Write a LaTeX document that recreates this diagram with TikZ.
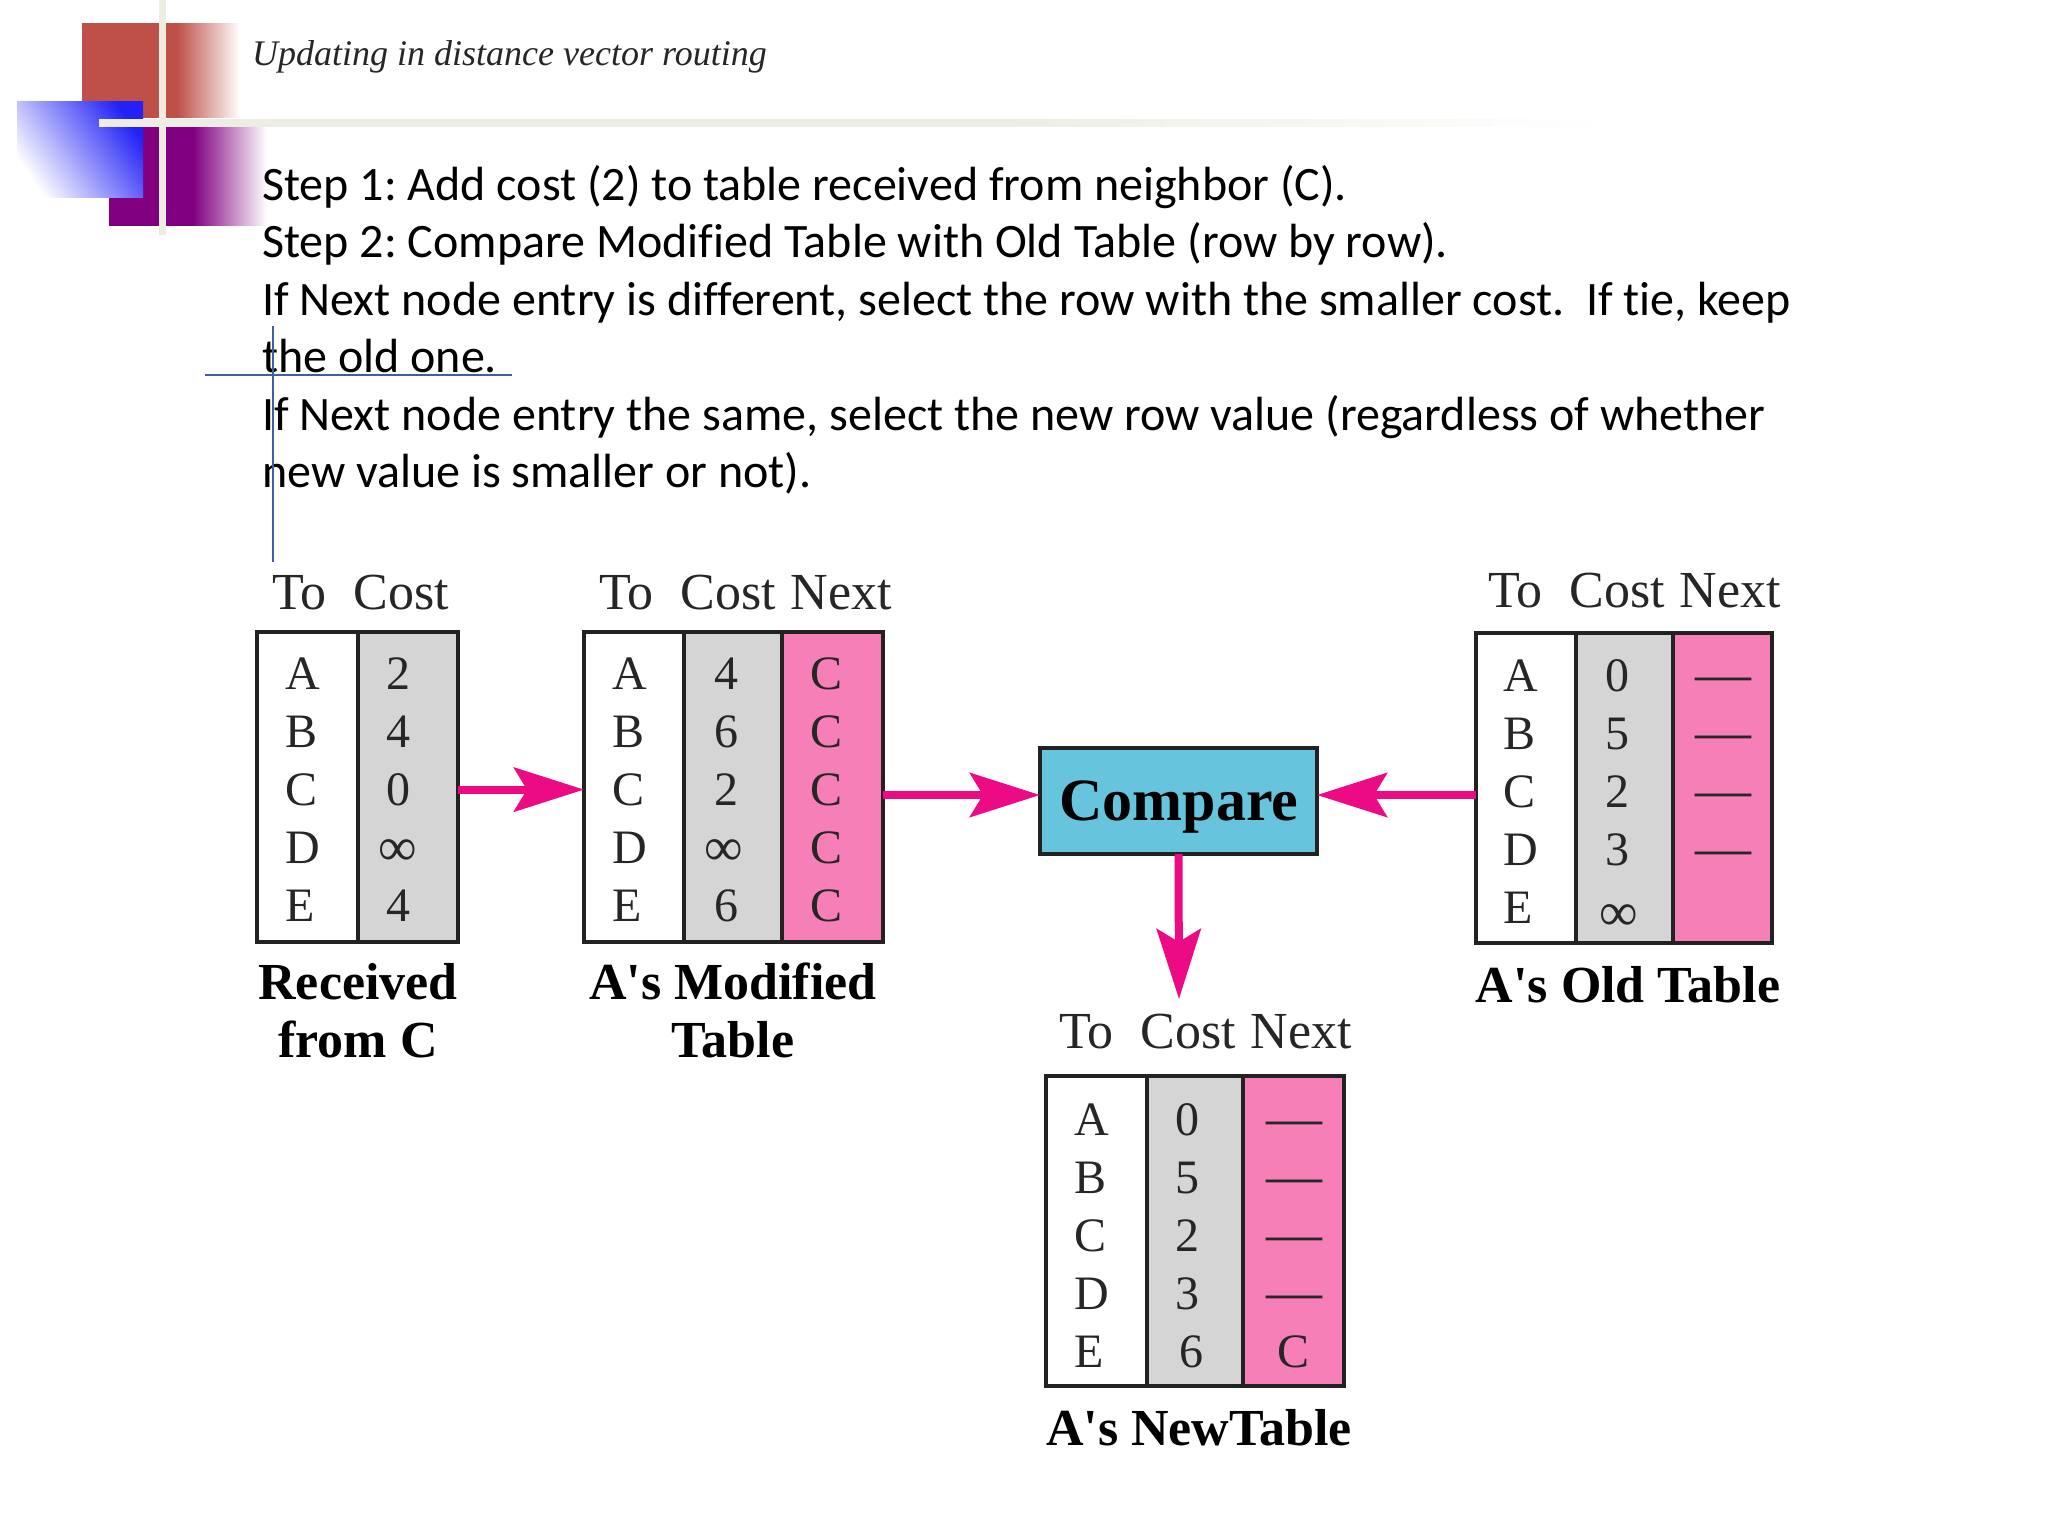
\documentclass[tikz,border=0pt]{standalone}
\usepackage{fontspec}
\setmainfont{Liberation Serif}
\newfontfamily\capfont{Liberation Serif}
\newfontfamily\bodyfont[Ligatures=NoCommon]{Carlito}
\usetikzlibrary{arrows.meta}
\definecolor{arrowpink}{HTML}{EC0B85}
\definecolor{cellpink}{HTML}{F67FB8}
\definecolor{cellgray}{HTML}{D5D5D5}
\definecolor{cmpblue}{HTML}{66C4DC}
\definecolor{framedark}{HTML}{222222}
\definecolor{cream}{HTML}{EEEDE3}
\definecolor{deco}{HTML}{BE5049}
\definecolor{decop}{HTML}{800080}
\definecolor{decob}{HTML}{2222F5}
\definecolor{guide}{HTML}{3F5F9F}
\tikzset{
  x=1pt,y=-1pt,
  box/.style={draw=framedark,line width=3.6pt,inner sep=0pt,outer sep=0pt,anchor=north west},
  val/.style={inner sep=0pt,font=\fontsize{48}{48}\selectfont,text=black!85,anchor=base},
  letter/.style={val,anchor=base west},
  infval/.style={val,font=\fontsize{54}{54}\selectfont},
  dashcell/.style={val,font=\fontsize{56}{56}\selectfont},
  hdr/.style={inner sep=0pt,anchor=base west,font=\fontsize{52}{52}\selectfont,text=black!85},
  tabcap/.style={inner sep=0pt,anchor=base,align=center,font=\fontsize{52}{58}\selectfont\capfont\bfseries},
  link/.style={draw=arrowpink,line width=8pt,-{Stealth[length=70pt,width=44pt,inset=13pt,fill=arrowpink]}},
}
\newcommand{\cellbox}[6]{\node[box,fill=#6,minimum width=#3pt-#2pt,minimum height=#5pt-#4pt] (#1) at (#2,#4) {};}
\newcommand{\lettercol}[3]{% prefix, x, first baseline
  \foreach \L [count=\i from 0] in {A,B,C,D,E}
    \node[letter] (#1\L) at (#2,#3+\i*58) {\L};}
\newcommand{\hdrline}[4]{\node[hdr] (#1) at (#2,#3) {#4};}
\begin{document}
\begin{tikzpicture}
\useasboundingbox (0,0) rectangle (2048,1536);
% decoration
\fill[deco] (82,23) rectangle (178,118);
\shade[left color=deco,right color=white] (177,23.7) rectangle (240,117.3);
\fill[decop] (109,127) rectangle (194,226);
\shade[left color=decop,right color=white] (193,127.7) rectangle (267,225.3);
\shade[shading=axis,left color=decob,right color=white,shading angle=-55] (17,102) rectangle (143,197);
\fill[cream] (99,119) rectangle (1001,127);
\shade[left color=cream,right color=white] (1000,119.7) rectangle (1610,126.3);
\fill[cream] (159,0) rectangle (166,235);
% title
\node[inner sep=0pt,anchor=base west,font=\fontsize{36}{36}\selectfont\itshape,text=black!85] (title) at (252,66) {Updating in distance vector routing};
% body
\node[inner sep=0pt,anchor=north west,align=left,font=\fontsize{48}{57.5}\selectfont\bodyfont\frenchspacing] (body) at (262,165) {Step 1: Add cost (2) to table received from neighbor (C).\\
Step 2: Compare Modified Table with Old Table (row by row).\\
If Next node entry is different, select the row with the smaller cost.\ \ If tie, keep\\
the old one.\\
If Next node entry the same, select the new row value (regardless of whether\\
new value is smaller or not).};
% guides
\coordinate (gh1) at (205,375); \coordinate (gh2) at (512,375);
\coordinate (gv1) at (273,326); \coordinate (gv2) at (273,562);
\draw[guide,line width=1.4pt] (gh1) -- (gh2);
\draw[guide,line width=1.4pt] (gv1) -- (gv2);
% table 1
\hdrline{h1}{272}{609}{To\hspace{27pt}Cost}
\cellbox{t1a}{257}{358}{632}{942}{white}
\cellbox{t1b}{358}{458}{632}{942}{cellgray}
\lettercol{t1l}{285}{689}
\node[val] (t1v1) at (398,689) {2};
\node[val] (t1v2) at (398,747) {4};
\node[val] (t1v3) at (398,805) {0};
\node[infval] (t1v4) at (398,865) {∞};
\node[val] (t1v5) at (398,921) {4};
\node[tabcap] (c1) at (358,999) {Received};
\node[tabcap] (c1b) at (358,1057) {from C};
% table 2
\hdrline{h2}{599}{609}{To\hspace{27pt}Cost\hspace{15pt}Next}
\cellbox{t2a}{584}{684}{632}{942}{white}
\cellbox{t2b}{684}{782}{632}{942}{cellgray}
\cellbox{t2c}{782}{883}{632}{942}{cellpink}
\lettercol{t2l}{612}{689}
\node[val] (t2v1) at (726,689) {4};
\node[val] (t2v2) at (726,747) {6};
\node[val] (t2v3) at (726,805) {2};
\node[infval] (t2v4) at (724,865) {∞};
\node[val] (t2v5) at (726,921) {6};
\foreach \i in {0,...,4} \node[val] (t2n\i) at (826,689+\i*58) {C};
\node[tabcap] (c2) at (733,999) {A's Modified};
\node[tabcap] (c2b) at (733,1057) {Table};
% old table
\hdrline{h3}{1488}{607}{To\hspace{27pt}Cost\hspace{15pt}Next}
\cellbox{t3a}{1476}{1576}{633}{943}{white}
\cellbox{t3b}{1576}{1673}{633}{943}{cellgray}
\cellbox{t3c}{1673}{1772}{633}{943}{cellpink}
\lettercol{t3l}{1503}{691}
\node[val] (t3v1) at (1617,691) {0};
\node[val] (t3v2) at (1617,749) {5};
\node[val] (t3v3) at (1617,807) {2};
\node[val] (t3v4) at (1617,865) {3};
\node[infval] (t3v5) at (1619,930) {∞};
\foreach \i in {0,...,3} \node[dashcell] (t3n\i) at (1723,692+\i*58) {—};
\node[tabcap] (c3) at (1628,1002) {A's Old Table};
% new table
\hdrline{h4}{1059}{1048}{To\hspace{27pt}Cost\hspace{15pt}Next}
\cellbox{t4a}{1046}{1147}{1076}{1386}{white}
\cellbox{t4b}{1147}{1243}{1076}{1386}{cellgray}
\cellbox{t4c}{1243}{1344}{1076}{1386}{cellpink}
\lettercol{t4l}{1074}{1135}
\node[val] (t4v1) at (1187,1135) {0};
\node[val] (t4v2) at (1187,1193) {5};
\node[val] (t4v3) at (1187,1251) {2};
\node[val] (t4v4) at (1187,1309) {3};
\node[val] (t4v5) at (1191,1367) {6};
\foreach \i in {0,...,3} \node[dashcell] (t4n\i) at (1294,1136+\i*58) {—};
\node[val] (t4n4) at (1293,1367) {C};
\node[tabcap] (c4) at (1199,1445) {A's NewTable};
% compare
\node[box,fill=cmpblue,line width=4.5pt,minimum width=277pt,minimum height=106pt] (cmp) at (1040,748) {};
\node[inner sep=0pt,anchor=base,font=\fontsize{60}{60}\selectfont\bfseries] (cmpt) at (1179,820) {Compare};
% connectors
\coordinate (newin) at (1179,999);
\draw[link] ([yshift=-2.6pt]t1b.east) -- ([yshift=-2.6pt]t2a.west);
\draw[link] ([yshift=-8pt]t2c.east) -- ([yshift=6pt]cmp.west);
\draw[link] ([yshift=-7pt]t3a.west) -- ([yshift=6pt]cmp.east);
\draw[link] (cmp.south) -- (newin);
\end{tikzpicture}
\end{document}
